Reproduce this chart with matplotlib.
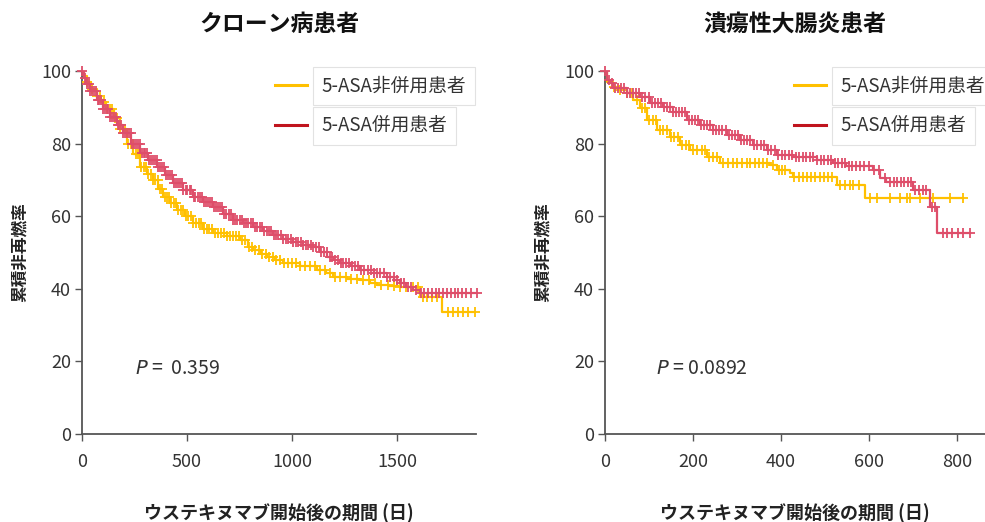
import numpy as np
import matplotlib
matplotlib.use('Agg')
import matplotlib.pyplot as plt

plt.rcParams['font.family'] = ['Noto Sans CJK JP', 'DejaVu Sans']
plt.rcParams['text.color'] = '#333333'
plt.rcParams['axes.labelcolor'] = '#222222'

# Crohn (left panel) - step curves
cd_non_t = [0, 10, 25, 45, 70, 90, 115, 150, 180, 215, 245, 276, 310, 338, 362, 386,
            420, 452, 490, 529, 575, 624, 690, 752, 790, 814, 850, 881, 920, 957,
            1040, 1119, 1160, 1195, 1260, 1324, 1370, 1405, 1460, 1514, 1610, 1714]
cd_non_s = [100, 98.5, 97, 95, 93, 91.5, 89.5, 87, 84, 80, 77, 73.6, 71.5, 70, 67.5, 65.3,
            63.5, 61.7, 60, 58.1, 56.5, 55.4, 54.5, 53.4, 51.5, 50.7, 49.6, 48.8, 48, 47.1,
            46.2, 45.2, 44.3, 43.3, 42.8, 42.4, 41.6, 41, 40.7, 40.5, 37.7, 33.6]
cd_non_cens = [25, 48, 70, 88, 104, 118, 131, 143, 156, 168, 181, 193, 206, 219, 231, 244,
               256, 268, 281, 293, 305, 316, 327, 338, 349, 360, 371, 382, 393, 404, 415,
               426, 437, 448, 459, 470, 482, 494, 506, 518, 530, 542, 555, 568, 581, 594,
               607, 620, 634, 648, 662, 676, 690, 704, 718, 733, 748, 763, 778, 794, 810,
               826, 842, 858, 875, 892, 909, 926, 944, 962, 980, 1000, 1020, 1040, 1062,
               1085, 1108, 1132, 1156, 1180, 1205, 1230, 1256, 1282, 1310, 1338, 1366,
               1395, 1425, 1455, 1485, 1515, 1545, 1575, 1600, 1625, 1645, 1665, 1690,
               1745, 1765, 1790, 1815, 1840, 1870]

cd_asa_t = [0, 8, 20, 40, 70, 100, 133, 165, 195, 235, 276, 315, 357, 395, 433, 480,
            529, 575, 624, 670, 719, 765, 814, 860, 910, 955, 1005, 1050, 1100, 1135,
            1167, 1200, 1229, 1280, 1324, 1390, 1452, 1485, 1514, 1545, 1576, 1610]
cd_asa_s = [100, 98, 96.5, 94.5, 92, 89.5, 87.3, 85, 82.9, 80, 77.4, 75.5, 73.6, 71.3, 69.1, 67.2,
            65.3, 63.8, 62.5, 60.6, 59, 58, 57, 55.8, 54.8, 53.8, 52.9, 52.2, 51.5, 50.2,
            48.8, 48, 47.1, 46.2, 45.2, 44.3, 43.3, 42.5, 41.6, 40.6, 39.7, 38.8]
cd_asa_cens = [0, 12, 22, 31, 40, 48, 57, 66, 74, 83, 92, 100, 109, 118, 126, 135, 144,
               152, 161, 170, 178, 187, 196, 205, 214, 222, 231, 240, 249, 258, 266, 275,
               284, 293, 302, 311, 320, 328, 337, 346, 355, 364, 373, 382, 391, 400, 410,
               419, 428, 437, 446, 456, 465, 474, 483, 493, 502, 512, 521, 531, 540, 550,
               560, 569, 579, 589, 598, 608, 618, 628, 638, 648, 658, 668, 678, 688, 698,
               709, 719, 729, 740, 750, 760, 771, 781, 792, 803, 813, 824, 835, 846, 857,
               868, 879, 890, 901, 913, 924, 935, 947, 958, 970, 981, 993, 1005, 1017,
               1029, 1041, 1053, 1065, 1077, 1090, 1102, 1115, 1127, 1140, 1153, 1166,
               1179, 1192, 1205, 1218, 1232, 1245, 1259, 1273, 1287, 1301, 1315, 1330,
               1345, 1360, 1375, 1390, 1405, 1420, 1436, 1452, 1468, 1484, 1500, 1517,
               1534, 1551, 1568, 1590, 1612, 1630, 1648, 1666, 1684, 1702, 1720, 1738,
               1756, 1774, 1792, 1810, 1830, 1850, 1880]

# Ulcerative colitis (right panel)
uc_non_t = [0, 5, 18, 35, 49, 64, 80, 95, 118, 148, 170, 193, 231, 261, 375, 390,
            420, 427, 527, 591]
uc_non_s = [100, 97, 95.7, 94.8, 93.9, 92, 89.8, 86.5, 83.7, 81.9, 79.6, 78.2, 76.4,
            74.7, 74.1, 72.7, 71.9, 70.9, 68.6, 65.0]
uc_non_cens = [20, 35, 50, 62, 72, 84, 92, 100, 108, 116, 124, 132, 140, 150, 158, 166,
               176, 184, 192, 200, 210, 220, 228, 236, 246, 255, 268, 280, 292, 300, 312,
               322, 330, 342, 350, 360, 368, 382, 395, 402, 410, 430, 440, 450, 460, 468,
               478, 488, 498, 508, 516, 535, 545, 556, 565, 578, 602, 618, 648, 670, 686,
               693, 716, 745, 784, 814]

uc_asa_t = [0, 5, 11, 18, 49, 80, 102, 132, 155, 186, 216, 245, 277, 307, 336, 368,
            390, 427, 481, 518, 549, 609, 625, 640, 700, 739, 754]
uc_asa_s = [100, 97.5, 96.6, 95.3, 93.9, 92.9, 91.2, 90.2, 88.8, 86.5, 85.1, 83.7, 82.4,
            81.0, 79.6, 78.2, 76.9, 76.4, 75.5, 74.7, 73.7, 72.7, 70.5, 69.5, 67.2, 62.6, 55.4]
uc_asa_cens = [0, 8, 15, 22, 29, 36, 43, 50, 57, 64, 71, 78, 85, 92, 99, 106, 113, 120,
               127, 134, 141, 148, 155, 162, 169, 176, 183, 190, 197, 204, 211, 218, 225,
               232, 239, 246, 253, 260, 267, 274, 281, 288, 295, 302, 309, 316, 323, 330,
               338, 346, 354, 362, 370, 378, 386, 394, 402, 410, 418, 426, 434, 442, 450,
               458, 466, 474, 482, 490, 498, 506, 514, 522, 530, 538, 546, 554, 562, 570,
               580, 590, 600, 612, 624, 636, 648, 656, 664, 672, 680, 688, 696, 705, 714,
               722, 730, 744, 750, 768, 777, 789, 802, 814, 830]

label_non = '5-ASA非併用患者'
label_asa = '5-ASA併用患者'
p_texts = ['$P$ =  0.359', '$P$ = 0.0892']
titles = ['クローン病患者', '潰瘍性大腸炎患者']
ylabel = '累積非再燃率'
xlabel = 'ウステキヌマブ開始後の期間 (日)'

yellow = '#FFC000'
red = '#DE4E6A'
red_leg = '#C0141E'


def km(ax, t, s, cens, color, label):
    t = np.array(t, dtype=float)
    s = np.array(s, dtype=float)
    end = max(cens)
    ax.step(np.append(t, end), np.append(s, s[-1]), where='post', color=color, lw=1.6,
            label=label, zorder=3)
    c = np.array(cens, dtype=float)
    idx = np.searchsorted(t, c, side='right') - 1
    ax.plot(c, s[idx], '+', color=color, ms=7.5, mew=1.3, clip_on=False, zorder=3)


fig = plt.figure(figsize=(9.85, 5.22), dpi=100)
ax1 = fig.add_axes([82 / 985, 88 / 522, 394 / 985, 363 / 522])
ax2 = fig.add_axes([605 / 985, 88 / 522, 380 / 985, 363 / 522])

km(ax1, cd_non_t, cd_non_s, cd_non_cens, yellow, label_non)
km(ax1, cd_asa_t, cd_asa_s, cd_asa_cens, red, label_asa)
km(ax2, uc_non_t, uc_non_s, uc_non_cens, yellow, label_non)
km(ax2, uc_asa_t, uc_asa_s, uc_asa_cens, red, label_asa)

ax1.set_xlim(0, 1876)
ax1.set_xticks([0, 500, 1000, 1500])
ax2.set_xlim(0, 864)
ax2.set_xticks([0, 200, 400, 600, 800])

for i, ax in enumerate([ax1, ax2]):
    ax.set_ylim(0, 100)
    ax.set_yticks([0, 20, 40, 60, 80, 100])
    for sp in ['top', 'right']:
        ax.spines[sp].set_visible(False)
    for sp in ['left', 'bottom']:
        ax.spines[sp].set_color('#555555')
        ax.spines[sp].set_linewidth(1.3)
    ax.tick_params(axis='both', colors='#555555', labelcolor='#333333', length=5,
                   width=1, labelsize=13)
    ax.tick_params(axis='x', pad=9)
    ax.tick_params(axis='y', pad=3)
    ax.set_title(titles[i], fontsize=16.5, fontweight='bold', pad=29, color='#111111')
    ax.set_ylabel(ylabel, fontsize=12, fontweight='bold', labelpad=9)
    ax.set_xlabel(xlabel, fontsize=13, fontweight='bold', labelpad=23)
    ax.text(0.135, 0.165, p_texts[i], transform=ax.transAxes, fontsize=14,
            color='#333333')

    leg = ax.legend(loc='upper left', bbox_to_anchor=(0.49 if i == 0 else 0.497, 0.988),
                    frameon=False, fontsize=13.5, handlelength=1.7, handletextpad=0.8,
                    labelspacing=1.0, borderpad=0, borderaxespad=0)
    leg.legend_handles[0].set_color(yellow)
    leg.legend_handles[1].set_color(red_leg)
    for h in leg.legend_handles:
        h.set_linewidth(2.2)
    for txt in leg.get_texts():
        txt.set_color('#333333')
        txt.set_bbox(dict(boxstyle='square,pad=0.45', fc='white', ec='#e2e2e2', lw=0.8))

fig.savefig('out.png', dpi=100)
